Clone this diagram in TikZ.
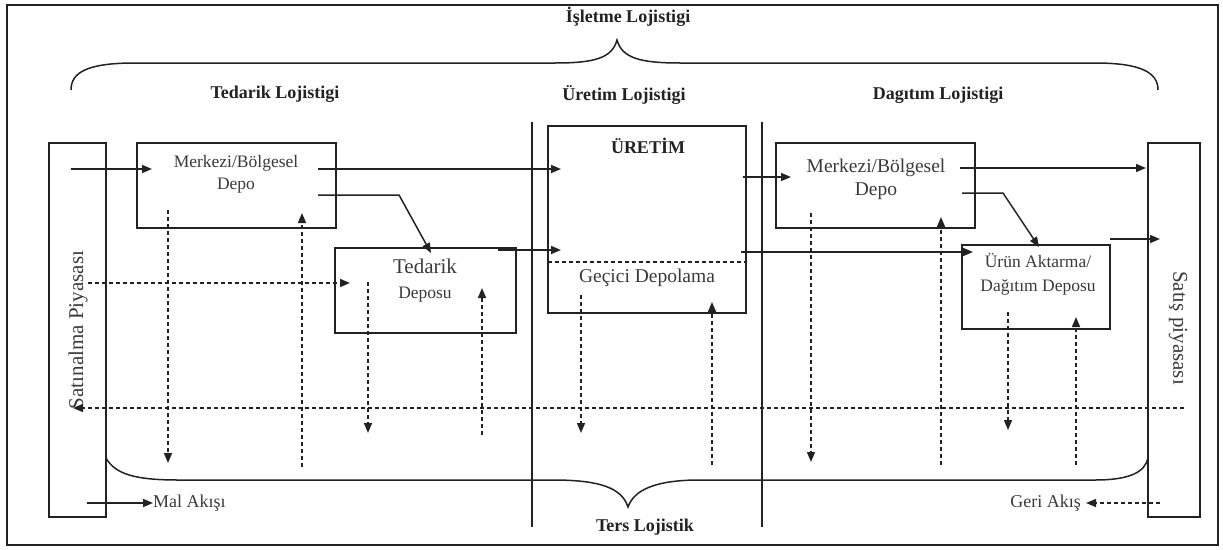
\documentclass[tikz,border=0pt]{standalone}
\usepackage{fontspec}
\setmainfont{Liberation Serif}
\usetikzlibrary{arrows.meta}
\definecolor{ink}{HTML}{222222}
\definecolor{txtc}{HTML}{3a3a3a}
\begin{document}
\begin{tikzpicture}[x=1pt,y=-1pt,
  box/.style={draw=ink, line width=1.7pt, inner sep=0pt, outer sep=0pt},
  arr/.style={draw=ink, line width=1.5pt, -{Triangle[length=10pt,width=8pt]}},
  darr/.style={arr, dash pattern=on 4pt off 3pt},
  dline/.style={draw=ink, line width=1.5pt, dash pattern=on 4pt off 3pt},
  head/.style={font=\fontsize{18}{20}\selectfont\bfseries, inner sep=0pt, text=ink},
  txt/.style={font=\fontsize{18}{22}\selectfont, inner sep=0pt, text=txtc, align=center},
  sepline/.style={draw=ink, line width=1.7pt},
  brace/.style={draw=ink, line width=1.5pt}
]
\useasboundingbox (0,0) rectangle (1223,549);
\draw[line width=2.2pt, draw=ink] (7,5) rectangle (1218,545);

% headings
\node[head] (title) at (628,17) {İşletme Lojistigi};
\node[head] (h1) at (275,94) {Tedarik Lojistigi};
\node[head] (h2) at (624,95) {Üretim Lojistigi};
\node[head] (h3) at (938,95) {Dagıtım Lojistigi};
\node[head] (ters) at (645,527) {Ters Lojistik};

% braces
\draw[brace] (71,90) .. controls (71,72) and (88,63) .. (135,63) -- (555,63)
  .. controls (595,63) and (612,58) .. (617,40)
  .. controls (622,58) and (640,63) .. (680,63) -- (1095,63)
  .. controls (1140,63) and (1158,72) .. (1158,90);
\draw[brace] (106,458) .. controls (115,474) and (135,480) .. (178,480) -- (553,480)
  .. controls (600,480) and (622,488) .. (628,507)
  .. controls (634,490) and (655,480) .. (700,480) -- (1095,480)
  .. controls (1130,480) and (1145,472) .. (1148,458);

% separators
\coordinate (s1t) at (532,122); \coordinate (s1b) at (532,527);
\coordinate (s2t) at (762,122); \coordinate (s2b) at (762,527);
\draw[sepline] (s1t) -- (s1b);
\draw[sepline] (s2t) -- (s2b);

% boxes
\node[box, minimum width=57pt, minimum height=374pt] (sat) at (77.5,330) {};
\node[box, minimum width=199pt, minimum height=85pt] (m1) at (236.5,185.5) {};
\node[box, minimum width=181pt, minimum height=85pt] (td) at (425.5,290.5) {};
\node[box, minimum width=198pt, minimum height=187pt] (ur) at (647,219.5) {};
\node[box, minimum width=199pt, minimum height=85pt] (m2) at (875.5,185.5) {};
\node[box, minimum width=148pt, minimum height=84pt] (ua) at (1036,287) {};
\node[box, minimum width=52pt, minimum height=374pt] (sp) at (1174,330) {};

% texts
\node[txt, rotate=90, font=\fontsize{21}{22}\selectfont] (satt) at (78,330) {Satınalma Piyasası};
\node[txt, rotate=-90, font=\fontsize{21}{22}\selectfont] (spt) at (1178,328) {Satış piyasası};
\node[txt, font=\fontsize{17.5}{22}\selectfont] (m1t) at (236,174) {Merkezi/Bölgesel\\Depo};
\node[txt, font=\fontsize{19.5}{23}\selectfont] (m2t) at (876,179) {Merkezi/Bölgesel\\Depo};
\node[txt, font=\fontsize{21}{22}\selectfont] (tdt1) at (425,266) {Tedarik};
\node[txt, font=\fontsize{17.5}{22}\selectfont] (tdt2) at (425,295) {Deposu};
\node[head] (urt) at (648,146) {ÜRETİM};
\node[txt, font=\fontsize{19.5}{22}\selectfont] (gdt) at (647,278) {Geçici Depolama};
\node[txt, font=\fontsize{17.5}{24}\selectfont] (uat) at (1038,274) {Ürün Aktarma/\\Dağıtım Deposu};
\node[txt, anchor=west] (mal) at (153,503) {Mal Akışı};
\node[txt, anchor=east] (geri) at (1081,503) {Geri Akış};

% solid flow coordinates
\coordinate (a1s) at (71,169);   \coordinate (a1e) at (152,169);
\coordinate (a2s) at (318,169);  \coordinate (a2e) at (561,169);
\coordinate (a3s) at (318,195);  \coordinate (a3m) at (399,195); \coordinate (a3e) at (431,253);
\coordinate (a4s) at (498,250);  \coordinate (a4e) at (561,250);
\coordinate (a5s) at (743,177);  \coordinate (a5e) at (791,177);
\coordinate (a6s) at (960,168);  \coordinate (a6e) at (1146,168);
\coordinate (a7s) at (962,193);  \coordinate (a7m) at (1003,193); \coordinate (a7e) at (1039,247);
\coordinate (a8s) at (741,252);  \coordinate (a8e) at (973,252);
\coordinate (a9s) at (1110,239); \coordinate (a9e) at (1160,239);
\coordinate (a10s) at (87,503);

\draw[arr] (a1s) -- (a1e);
\draw[arr] (a2s) -- (a2e);
\draw[arr] (a3s) -- (a3m) -- (a3e);
\draw[arr] (a4s) -- (a4e);
\draw[arr] (a5s) -- (a5e);
\draw[arr] (a6s) -- (a6e);
\draw[arr] (a7s) -- (a7m) -- (a7e);
\draw[arr] (a8s) -- (a8e);
\draw[arr] (a9s) -- (a9e);
\draw[arr] (a10s) -- (mal.west);

% dashed flow coordinates
\coordinate (da1s) at (88,283);   \coordinate (da1e) at (350,283);
\coordinate (dbs) at (1184,408);  \coordinate (dbe) at (73,408);
\coordinate (dcs) at (168,210);   \coordinate (dce) at (168,463);
\coordinate (dds) at (302,467);   \coordinate (dde) at (302,213);
\coordinate (des) at (368,282);   \coordinate (dee) at (368,433);
\coordinate (dfs) at (482,435);   \coordinate (dfe) at (482,288);
\coordinate (dgs) at (581,295);   \coordinate (dge) at (581,433);
\coordinate (dhs) at (712,465);   \coordinate (dhe) at (712,302);
\coordinate (dis) at (811,213);   \coordinate (die) at (811,462);
\coordinate (djs) at (941,465);   \coordinate (dje) at (941,217);
\coordinate (dks) at (1008,312);  \coordinate (dke) at (1008,430);
\coordinate (dls) at (1076,465);  \coordinate (dle) at (1076,317);
\coordinate (dms) at (1160,503);
\coordinate (dnl) at (548,262);   \coordinate (dnr) at (746,262);

\draw[darr] (da1s) -- (da1e);
\draw[darr] (dbs) -- (dbe);
\draw[darr] (dcs) -- (dce);
\draw[darr] (dds) -- (dde);
\draw[darr] (des) -- (dee);
\draw[darr] (dfs) -- (dfe);
\draw[darr] (dgs) -- (dge);
\draw[darr] (dhs) -- (dhe);
\draw[darr] (dis) -- (die);
\draw[darr] (djs) -- (dje);
\draw[darr] (dks) -- (dke);
\draw[darr] (dls) -- (dle);
\draw[darr] (dms) -- ([xshift=5pt]geri.east);
\draw[dline] (dnl) -- (dnr);
\end{tikzpicture}
\end{document}
